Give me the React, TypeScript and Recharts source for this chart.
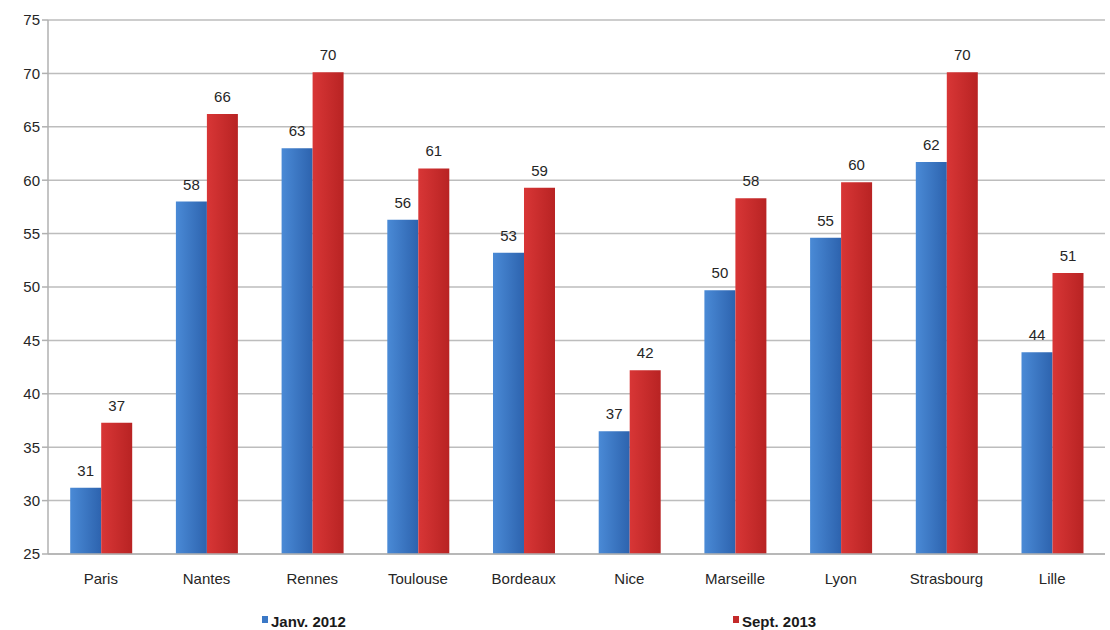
import { Bar, BarChart, CartesianGrid, LabelList, Legend, XAxis, YAxis } from "recharts";

const CITIES = ["Paris", "Nantes", "Rennes", "Toulouse", "Bordeaux", "Nice", "Marseille", "Lyon", "Strasbourg", "Lille"];
const JANV_2012 = [31.2, 58.0, 63.0, 56.3, 53.2, 36.5, 49.7, 54.6, 61.7, 43.9];
const SEPT_2013 = [37.3, 66.2, 70.1, 61.1, 59.3, 42.2, 58.3, 59.8, 70.1, 51.3];
const Y_TICKS = [25, 30, 35, 40, 45, 50, 55, 60, 65, 70, 75];

const data = CITIES.map((city, i) => ({ city, janv: JANV_2012[i], sept: SEPT_2013[i] }));

const FONT = '"Liberation Sans", Arial, sans-serif';
const TEXT = { fill: "#262626", fontSize: 15, fontFamily: FONT };

function LegendBox() {
  const item = (color: string, text: string, left: number) => (
    <span style={{ position: "absolute", left, top: 0, display: "flex", alignItems: "center", fontWeight: 700, fontSize: 15, color: "#1a1a1a" }}>
      <span style={{ display: "inline-block", width: 6, height: 7, background: color, marginRight: 3, marginTop: -4 }} />
      {text}
    </span>
  );
  return (
    <div style={{ position: "relative", height: 20, fontFamily: FONT }}>
      {item("#3b78c6", "Janv. 2012", 262)}
      {item("#c42a2a", "Sept. 2013", 733)}
    </div>
  );
}

export default function App() {
  return (
    <div style={{ position: "absolute", left: 0, top: 0, width: 1110, height: 630, background: "#fff", fontFamily: FONT }}>
      <BarChart
        width={1110}
        height={630}
        data={data}
        margin={{ top: 20, right: 5, bottom: 11, left: 0 }}
        barCategoryGap="21%"
        barGap={0}
      >
        <defs>
          <linearGradient id="gBlue" x1="0" y1="0" x2="1" y2="0">
            <stop offset="0%" stopColor="#4a8ad6" />
            <stop offset="100%" stopColor="#2d63ae" />
          </linearGradient>
          <linearGradient id="gRed" x1="0" y1="0" x2="1" y2="0">
            <stop offset="0%" stopColor="#d83636" />
            <stop offset="100%" stopColor="#b82323" />
          </linearGradient>
        </defs>
        <CartesianGrid vertical={false} stroke="#bdbdbd" strokeWidth={1.5} />
        <XAxis
          dataKey="city"
          axisLine={{ stroke: "#b0b0b0", strokeWidth: 1.5 }}
          tickLine={false}
          tick={TEXT}
          tickMargin={13}
          height={45}
        />
        <YAxis
          domain={[25, 75]}
          ticks={Y_TICKS}
          allowDataOverflow
          width={48}
          axisLine={{ stroke: "#b0b0b0", strokeWidth: 1.5 }}
          tickLine={{ stroke: "#b0b0b0", strokeWidth: 1.5 }}
          tickSize={6}
          tick={TEXT}
        />
        <Legend verticalAlign="bottom" content={() => <LegendBox />} wrapperStyle={{ bottom: -3 }} />
        <Bar dataKey="janv" name="Janv. 2012" fill="url(#gBlue)" isAnimationActive={false}>
          <LabelList dataKey="janv" position="top" offset={12} formatter={(v: number) => Math.round(v)} style={TEXT} />
        </Bar>
        <Bar dataKey="sept" name="Sept. 2013" fill="url(#gRed)" isAnimationActive={false}>
          <LabelList dataKey="sept" position="top" offset={12} formatter={(v: number) => Math.round(v)} style={TEXT} />
        </Bar>
      </BarChart>
    </div>
  );
}
